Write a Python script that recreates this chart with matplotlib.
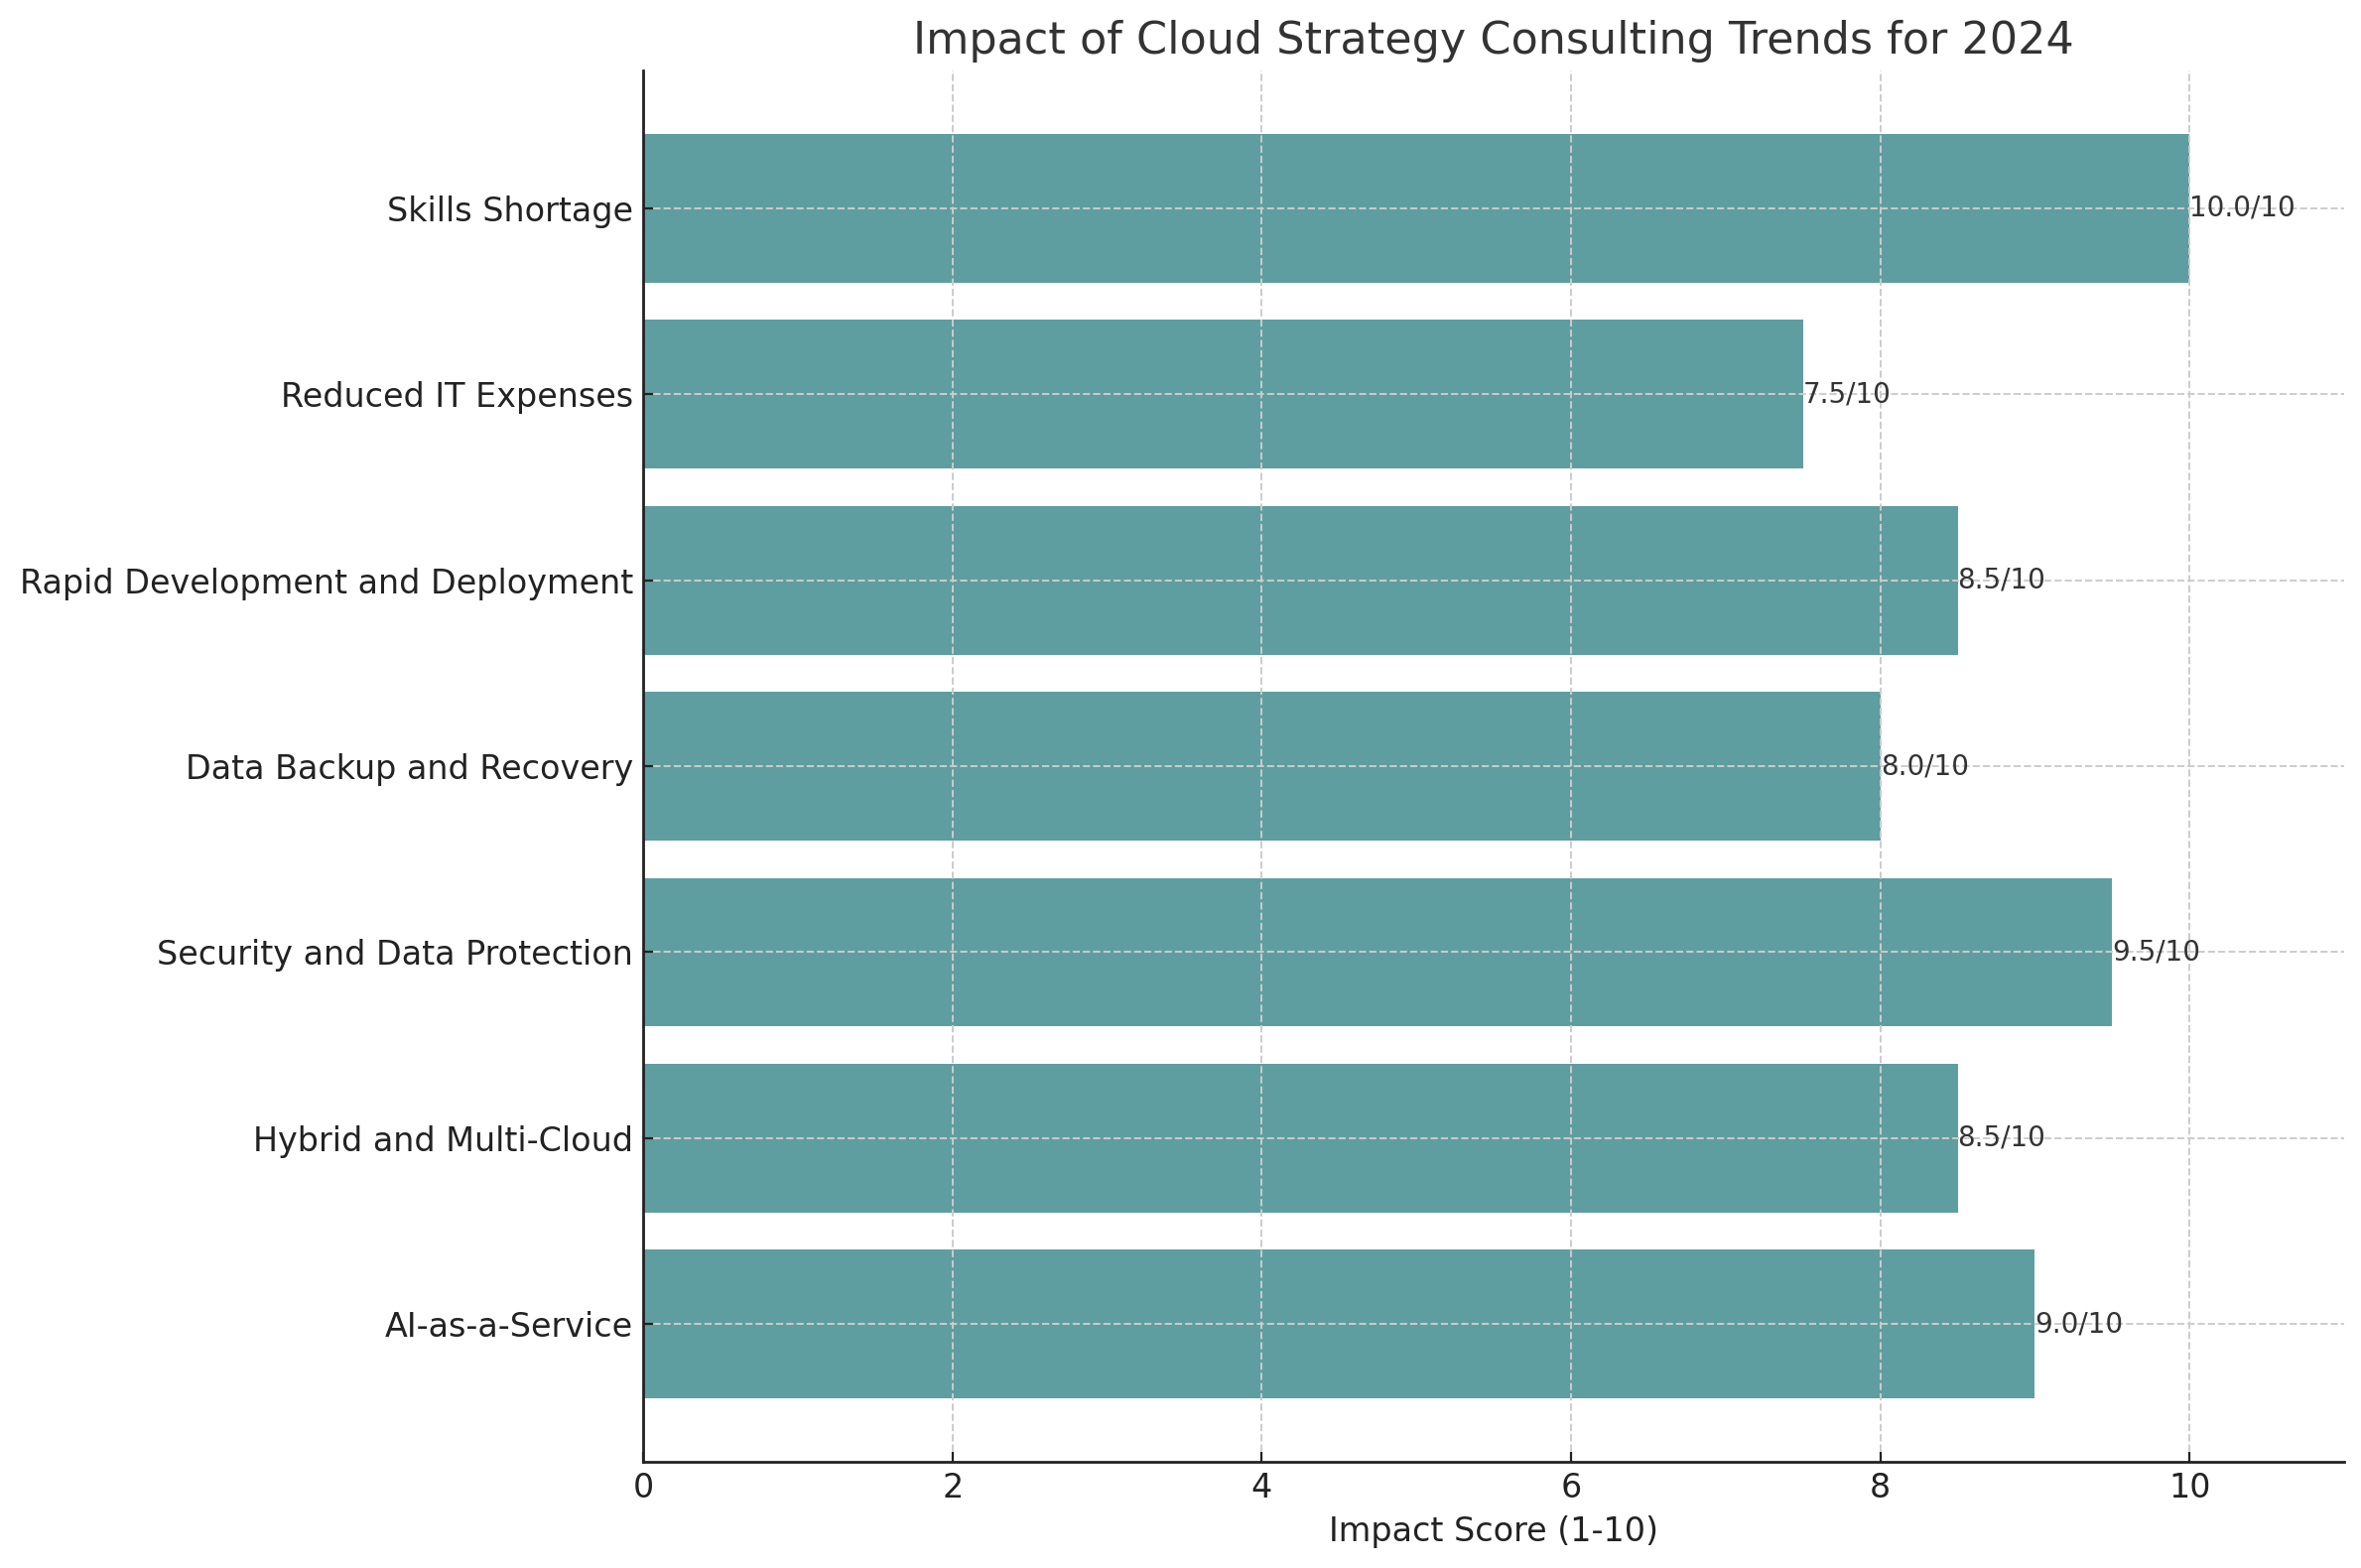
import matplotlib.pyplot as plt

# data
trends = ["AI-as-a-Service", "Hybrid and Multi-Cloud", "Security and Data Protection",
          "Data Backup and Recovery", "Rapid Development and Deployment",
          "Reduced IT Expenses", "Skills Shortage"]
scores = [9.0, 8.5, 9.5, 8.0, 8.5, 7.5, 10.0]

fig = plt.figure(figsize=(2379 / 200, 1580 / 200), dpi=200)
ax = fig.add_axes([0.2724, 0.0677, 0.7205, 0.8873])

bars = ax.barh(trends, scores, color="cadetblue", height=0.8)
for b, s in zip(bars, scores):
    ax.text(b.get_width(), b.get_y() + b.get_height() / 2, f"{s}/10",
            va="center", ha="left", fontsize=10, color="#333333")

ax.set_xlim(0, 11)
ax.set_title("Impact of Cloud Strategy Consulting Trends for 2024", fontsize=16, color="#333333")
ax.set_xlabel("Impact Score (1-10)", fontsize=12, color="#222222")
ax.tick_params(axis="both", labelsize=12, direction="in", colors="#222222")
ax.grid(True, linestyle="--", color="#cccccc", linewidth=0.7)
for side in ["top", "right"]:
    ax.spines[side].set_visible(False)
for side in ["left", "bottom"]:
    ax.spines[side].set_color("#222222")
    ax.spines[side].set_linewidth(1.0)

fig.savefig("out.png", dpi=200)
